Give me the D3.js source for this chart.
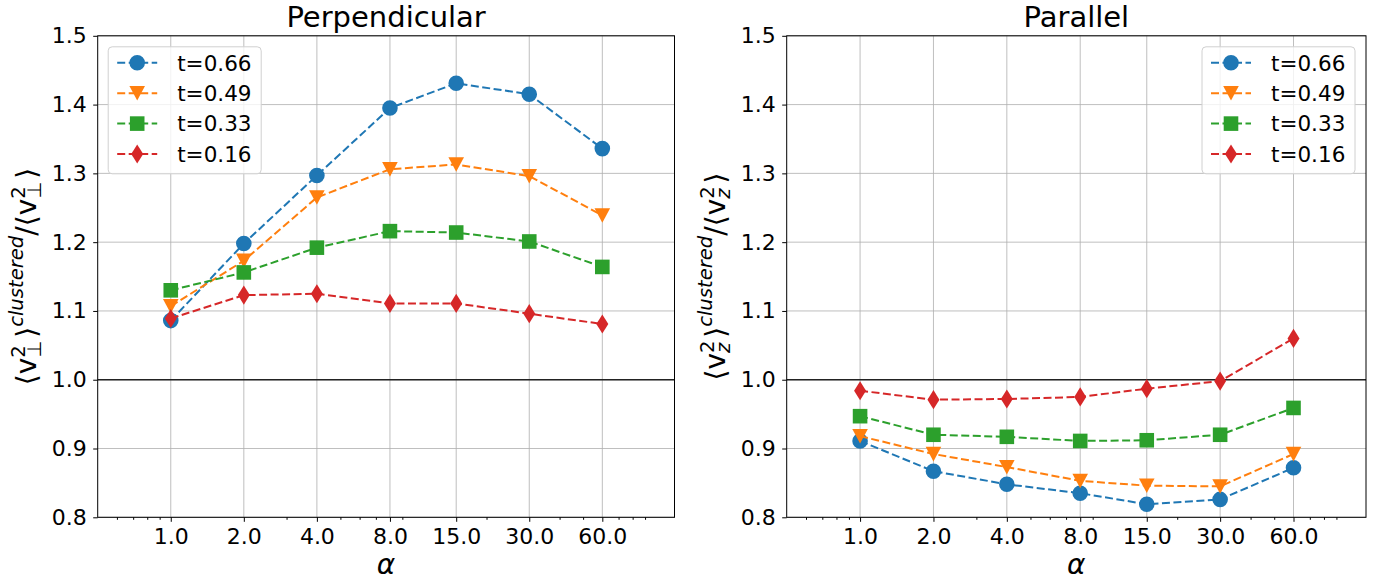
<!DOCTYPE html>
<html><head><meta charset="utf-8">
<script src="https://cdn.jsdelivr.net/npm/d3@7"></script>
<style>body{margin:0;background:#fff} svg{display:block} text{font-family:"DejaVu Sans",sans-serif;fill:#000}</style>
</head><body><svg id="c" width="1385" height="582"></svg>
<script>
const alphas=[1,2,4,8,15,30,60];
const xTickLabels=["1.0","2.0","4.0","8.0","15.0","30.0","60.0"];
const xMinorTicks=[0.6,0.7,0.8,0.9,3,5,6,7,9,20,40,50,70,80,90];
const yTicks=[0.8,0.9,1.0,1.1,1.2,1.3,1.4,1.5];
const yTickLabels=["0.8","0.9","1.0","1.1","1.2","1.3","1.4","1.5"];
const seriesLabels=["t=0.66","t=0.49","t=0.33","t=0.16"];
const seriesColors=["#1f77b4","#ff7f0e","#2ca02c","#d62728"];
const seriesMarkers=["circle","triangleDown","square","thinDiamond"];
const panelTitles=["Perpendicular","Parallel"];
const perpT066=[1.086,1.198,1.297,1.395,1.431,1.415,1.336];
const perpT049=[1.107,1.173,1.265,1.306,1.313,1.296,1.239];
const perpT033=[1.130,1.156,1.192,1.216,1.214,1.201,1.164];
const perpT016=[1.089,1.123,1.125,1.111,1.111,1.096,1.081];
const paraT066=[0.911,0.867,0.848,0.835,0.819,0.826,0.872];
const paraT049=[0.918,0.892,0.873,0.853,0.846,0.845,0.892];
const paraT033=[0.947,0.920,0.917,0.911,0.912,0.920,0.959];
const paraT016=[0.984,0.971,0.972,0.975,0.987,0.998,1.060];

const svg=d3.select("#c");
const TOP=35.8, BOT=517.3;
const panels=[
  {x0:97.7,x1:674.5,title:panelTitles[0],sub:"⊥",subIt:false,data:[perpT066,perpT049,perpT033,perpT016],legendLeft:true},
  {x0:786.7,x1:1366,title:panelTitles[1],sub:"z",subIt:true,data:[paraT066,paraT049,paraT033,paraT016],legendLeft:false}
];

function markerPath(type){
  switch(type){
    case "circle": {const r=7.8;return `M${-r},0A${r},${r} 0 1,0 ${r},0A${r},${r} 0 1,0 ${-r},0Z`;}
    case "triangleDown": return "M-7.8,-7.2L7.8,-7.2L0,7.4Z";
    case "square": return "M-7.3,-7.3H7.3V7.3H-7.3Z";
    case "thinDiamond": return "M0,-9.6L6,0L0,9.6L-6,0Z";
  }
}

function mathLabel(parent,tokens,fs){
  const g=parent.append("g");
  let x=0;
  tokens.forEach(tok=>{
    if(tok.stack){
      let w=0;
      tok.stack.forEach((s,j)=>{
        const t=g.append("text").attr("x",x).attr("y",j===0?-0.38*fs:0.2*fs)
          .style("font-size",(0.7*fs)+"px").style("font-style",s.it?"italic":"normal").text(s.t);
        w=Math.max(w,t.node().getComputedTextLength());
      });
      x+=w+0.1*fs;
    }else{
      const size=tok.sup?0.7*fs:fs;
      const t=g.append("text").attr("x",x).attr("y",tok.sup?-0.45*fs:0)
        .style("font-size",size+"px").style("font-style",tok.it?"italic":"normal").text(tok.t);
      x+=t.node().getComputedTextLength()+(tok.sp||0)*fs;
    }
  });
  return {g,width:x};
}

panels.forEach(p=>{
  const x=d3.scaleLog().domain([0.5,119]).range([p.x0,p.x1]);
  const y=d3.scaleLinear().domain([0.8,1.5]).range([BOT,TOP]);
  const g=svg.append("g");
  // grid
  g.append("g").selectAll("line").data(alphas).join("line")
    .attr("x1",d=>x(d)).attr("x2",d=>x(d)).attr("y1",TOP).attr("y2",BOT)
    .attr("stroke","#b0b0b0").attr("stroke-width",1).attr("opacity",0.8);
  g.append("g").selectAll("line").data(yTicks).join("line")
    .attr("y1",d=>y(d)).attr("y2",d=>y(d)).attr("x1",p.x0).attr("x2",p.x1)
    .attr("stroke","#b0b0b0").attr("stroke-width",1).attr("opacity",0.8);
  // hline at 1
  g.append("line").attr("x1",p.x0).attr("x2",p.x1).attr("y1",y(1.0)).attr("y2",y(1.0))
    .attr("stroke","#222").attr("stroke-width",1.5);
  // axes
  const xa=g.append("g").attr("transform",`translate(0,${BOT})`)
    .call(d3.axisBottom(x).tickValues(alphas).tickFormat((d,i)=>xTickLabels[i]).tickSize(4.5).tickPadding(6.5));
  const xm=g.append("g").attr("transform",`translate(0,${BOT})`)
    .call(d3.axisBottom(x).tickValues(xMinorTicks).tickFormat("").tickSize(2.5));
  const ya=g.append("g").attr("transform",`translate(${p.x0},0)`)
    .call(d3.axisLeft(y).tickValues(yTicks).tickFormat((d,i)=>yTickLabels[i]).tickSize(4.5).tickPadding(6.5));
  [xa,xm,ya].forEach(a=>{a.select(".domain").remove();a.selectAll("line").attr("stroke","#000").attr("stroke-width",1);
    a.selectAll("text").style("font-size","22px").style("font-family","DejaVu Sans").attr("fill","#000");});
  // spines
  g.append("rect").attr("x",p.x0).attr("y",TOP).attr("width",p.x1-p.x0).attr("height",BOT-TOP)
    .attr("fill","none").attr("stroke","#000").attr("stroke-width",1);
  // series
  const line=d3.line().x(d=>x(d.a)).y(d=>y(d.v));
  p.data.forEach((vals,si)=>{
    const pts=alphas.map((a,i)=>({a,v:vals[i]}));
    g.append("path").datum(pts).attr("d",line).attr("fill","none")
      .attr("stroke",seriesColors[si]).attr("stroke-width",2).attr("stroke-dasharray","8,3.5");
    g.append("g").selectAll("path").data(pts).join("path")
      .attr("transform",d=>`translate(${x(d.a)},${y(d.v)})`)
      .attr("d",markerPath(seriesMarkers[si])).attr("fill",seriesColors[si]);
  });
  // title
  g.append("text").attr("x",(p.x0+p.x1)/2).attr("y",27).attr("text-anchor","middle")
    .style("font-size","29px").text(p.title);
  // x label
  g.append("text").attr("x",(p.x0+p.x1)/2).attr("y",574).attr("text-anchor","middle")
    .style("font-size","28px").style("font-style","italic").text("α");
  // y label
  const st={stack:[{t:"2"},{t:p.sub,it:p.subIt}]};
  const toks=[{t:"⟨"},{t:"v"},st,{t:"⟩"},{t:"clustered",it:true,sup:true},{t:"/"},{t:"⟨"},{t:"v"},st,{t:"⟩"}];
  const outer=svg.append("g").attr("transform",`translate(${p.x0-62},${(TOP+BOT)/2}) rotate(-90)`);
  const ml=mathLabel(outer,toks,28);
  ml.g.attr("transform",`translate(${-ml.width/2},0)`);
  // legend
  const bw=153,bh=127;
  const bx=p.legendLeft?p.x0+10.5:p.x1-11-bw, by=TOP+11;
  const lg=g.append("g");
  lg.append("rect").attr("x",bx).attr("y",by).attr("width",bw).attr("height",bh).attr("rx",4)
    .attr("fill","#fff").attr("fill-opacity",0.8).attr("stroke","#d0d0d0").attr("stroke-width",1);
  seriesLabels.forEach((lab,i)=>{
    const ry=by+16+i*30.4;
    lg.append("line").attr("x1",bx+9).attr("x2",bx+49).attr("y1",ry).attr("y2",ry)
      .attr("stroke",seriesColors[i]).attr("stroke-width",2).attr("stroke-dasharray","8,3.5");
    lg.append("path").attr("transform",`translate(${bx+29},${ry})`).attr("d",markerPath(seriesMarkers[i])).attr("fill",seriesColors[i]);
    lg.append("text").attr("x",bx+69).attr("y",ry+7.8).style("font-size","21.5px").text(lab);
  });
});
</script></body></html>
